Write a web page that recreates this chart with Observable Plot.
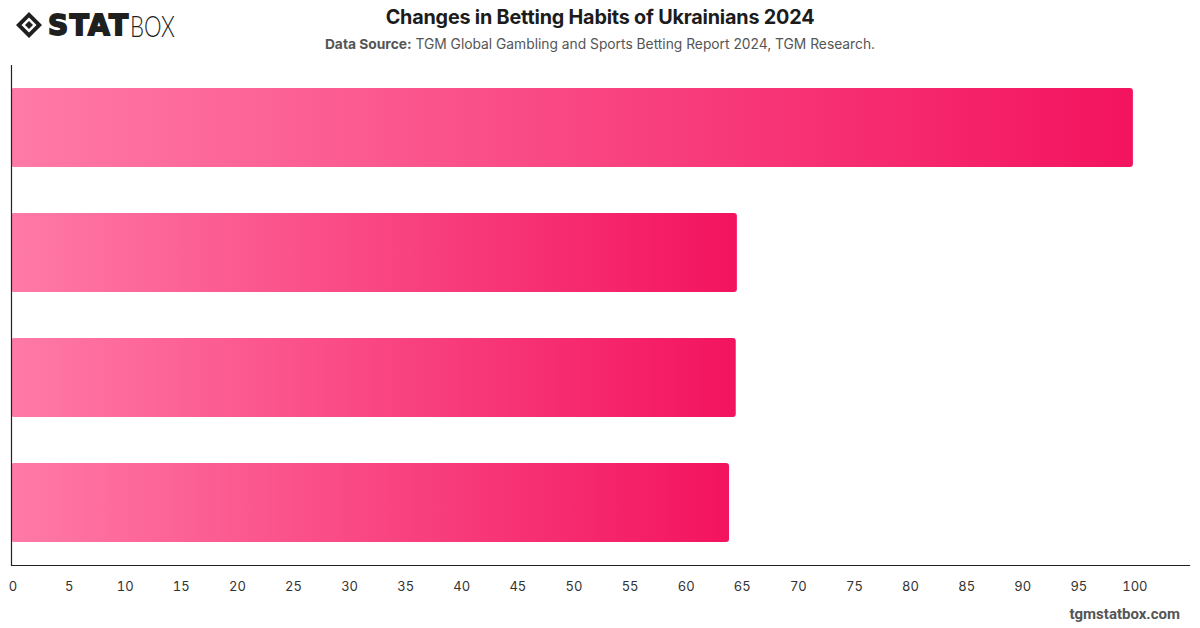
<!DOCTYPE html>
<html>
<head>
<meta charset="utf-8">
<script src="https://cdn.jsdelivr.net/npm/d3@7"></script>
<script src="https://cdn.jsdelivr.net/npm/@observablehq/plot@0.6"></script>
<style>
  html, body { margin: 0; padding: 0; background: #fff; }
  body { width: 1200px; height: 628px; position: relative; overflow: hidden;
         font-family: Inter, "Noto Sans", Roboto, sans-serif; }
  #logo { position: absolute; left: 15px; top: 7px; display: flex; align-items: center; }
  #logo .stat { font-family: "DejaVu Sans", Inter, sans-serif; font-weight: 700; font-size: 28px;
                letter-spacing: 1.5px; color: #1f1f1f; margin-left: 5px;
                -webkit-text-stroke: 1.8px #1f1f1f; }
  #logo .box { display: inline-block; font-family: Lato, Inter, sans-serif; font-weight: 300; font-size: 30px;
               color: #1f1f1f; transform: scaleX(0.74); transform-origin: left center; margin-left: 0px; }
  #title { position: absolute; left: 0; right: 0; top: 5px; text-align: center;
           font-size: 19.8px; font-weight: 700; color: #1c1c1c; letter-spacing: -0.2px; }
  #subtitle { position: absolute; left: 0; right: 0; top: 36px; text-align: center;
              font-size: 13.8px; color: #555; }
  #subtitle b { font-weight: 700; color: #555; }
  #chart { position: absolute; left: 0; top: 60px; }
  #footer { position: absolute; right: 20px; top: 605px; font-size: 15px; font-weight: 700;
            color: #555; font-family: Roboto, Inter, sans-serif; }
</style>
</head>
<body>
<div id="logo">
  <svg width="28" height="28" viewBox="0 0 28 28">
    <path d="M14 1 L27 14 L14 27 L1 14 Z M14 6.5 L6.5 14 L14 21.5 L21.5 14 Z" fill="#1f1f1f" fill-rule="evenodd"/>
    <path d="M14 10 L18 14 L14 18 L10 14 Z" fill="#1f1f1f"/>
  </svg>
  <span class="stat">STAT</span><span class="box">BOX</span>
</div>
<div id="title">Changes in Betting Habits of Ukrainians 2024</div>
<div id="subtitle"><b>Data Source:</b> TGM Global Gambling and Sports Betting Report 2024, TGM Research.</div>
<div id="chart"></div>
<div id="footer">tgmstatbox.com</div>

<script>
// Bar categories (not labelled on the chart) and their values
const categories = ["Group A", "Group B", "Group C", "Group D"];
const values = [100, 64.7, 64.6, 64.0];
const xTicks = [0, 5, 10, 15, 20, 25, 30, 35, 40, 45, 50, 55, 60, 65, 70, 75, 80, 85, 90, 95, 100];

// Gradient stops for the bar fill
const gradientFrom = "#ff7aa6";
const gradientTo = "#f3135f";

const data = categories.map((c, i) => ({category: c, value: values[i]}));

const plot = Plot.plot({
  width: 1200,
  height: 568,
  marginTop: 5,
  marginBottom: 63,
  marginLeft: 11,
  marginRight: 11,
  style: {fontFamily: "Inter, 'Noto Sans', sans-serif", fontSize: "13px", color: "#333", background: "transparent"},
  x: {domain: [0, 105], ticks: xTicks, tickSize: 0, tickPadding: 16, label: null},
  y: {domain: categories, paddingInner: 0.37, paddingOuter: 0.185, axis: null},
  marks: [
    Plot.axisX({ticks: xTicks, tickSize: 0, tickPadding: 16, dx: 1.5, label: null}),
    Plot.barX(data, {x: "value", y: "category", fill: "url(#barGradient)", rx: 3}),
    Plot.ruleX([0], {stroke: "#222", strokeWidth: 1.2}),
    Plot.frame({anchor: "bottom", stroke: "#222", strokeWidth: 1.2})
  ]
});

// Horizontal gradient applied to each bar
const defs = d3.select(plot).insert("defs", ":first-child");
const grad = defs.append("linearGradient")
  .attr("id", "barGradient")
  .attr("x1", "0").attr("y1", "0").attr("x2", "1").attr("y2", "0");
grad.append("stop").attr("offset", "0%").attr("stop-color", gradientFrom);
grad.append("stop").attr("offset", "100%").attr("stop-color", gradientTo);

document.getElementById("chart").appendChild(plot);
</script>
</body>
</html>
